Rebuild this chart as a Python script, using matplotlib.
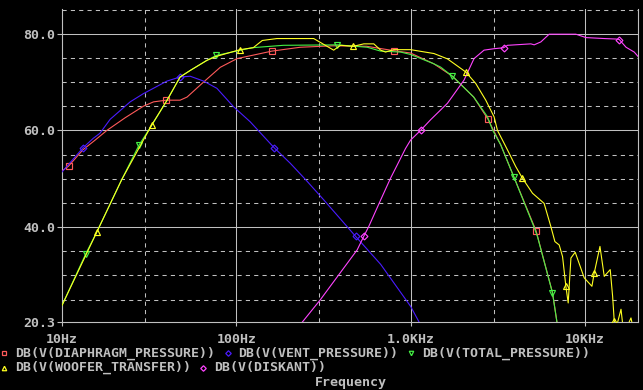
import matplotlib
matplotlib.use("Agg")
import matplotlib.pyplot as plt
from matplotlib.lines import Line2D

# ---------------- data (frequency in Hz, level in dB) ----------------
diaphragm_f = [10, 10.9, 13.2, 15.5, 18.1, 23.0, 29.3, 33.5, 39.6, 47.6, 52.2, 64.9, 80.9,
               101, 160, 233, 361, 559, 798, 1000, 1355, 1738, 2300, 2780, 3290, 3910,
               5250, 6520, 6970]
diaphragm_db = [51.6, 52.6, 56.0, 58.0, 60.0, 62.6, 65.0, 65.9, 66.25, 66.25, 66.9, 70.0, 73.05,
                74.85, 76.4, 77.2, 77.5, 77.4, 76.5, 76.0, 73.8, 71.2, 66.9, 62.3, 57.0, 50.4,
                39.2, 26.4, 19.5]

vent_f = [10, 13.2, 15.1, 16.5, 18.9, 24.6, 29.3, 40.0, 47.6, 54.4, 64.9, 77.4, 96.4, 120,
          165, 204, 250, 318, 483, 673, 1000, 1140]
vent_db = [51.4, 56.4, 58.35, 59.4, 62.3, 65.9, 67.6, 70.2, 71.05, 71.2, 70.2, 68.7, 64.9, 61.8,
           56.4, 53.2, 49.8, 45.6, 38.1, 32.3, 23.6, 19.8]

total_f = [10, 13.7, 15.8, 22.0, 27.7, 32.8, 40.0, 47.6, 54.4, 67.9, 76.7, 123, 186, 379, 564,
           673, 877, 1000, 1355, 1486, 1738, 2301, 2762, 2960, 3289, 3908, 5093, 5346, 6516,
           6966]
total_db = [23.8, 34.5, 38.9, 49.8, 57.0, 61.1, 66.2, 71.05, 72.4, 74.5, 75.5, 77.1, 77.6, 77.7,
            77.2, 76.4, 76.2, 75.7, 73.8, 73.1, 71.2, 66.9, 62.8, 60.0, 57.0, 50.4, 40.1, 38.0,
            26.4, 19.5]

woofer_f = [10, 15.8, 22.0, 29.3, 32.8, 40.0, 47.6, 54.4, 67.9, 76.7, 105, 125, 141, 171, 278,
            324, 362, 396, 470, 539, 615, 673, 718, 798, 1000, 1361, 1626, 2070, 2365, 2699,
            3013, 3150, 3365, 3673, 4012, 4383, 5004, 5834, 6378, 6727, 7119, 7443, 7777,
            8019, 8313, 8796, 9909, 10970, 11310, 12200, 12910, 13970, 14420, 14730, 15200,
            16110, 16520, 17500, 18380, 18800]
woofer_db = [23.8, 38.9, 49.8, 58.0, 61.2, 66.2, 71.05, 72.4, 74.5, 75.3, 76.7, 77.1, 78.6, 79.0,
             79.0, 77.6, 76.6, 77.6, 77.4, 77.9, 77.9, 76.6, 76.2, 76.7, 76.7, 75.9, 74.8,
             72.1, 69.7, 66.25, 62.8, 60.0, 58.0, 55.3, 52.5, 50.1, 47.0, 44.9, 40.1, 37.0,
             36.3, 33.9, 27.75, 24.3, 33.6, 34.8, 29.5, 27.75, 30.5, 36.0, 29.8, 31.2, 25.7,
             20.6, 19.5, 23.0, 19.5, 19.5, 21.2, 19.5]

diskant_f = [229, 304, 494, 539, 575, 673, 767, 935, 1000, 1141, 1302, 1626, 2025, 2311, 2638,
             3013, 3413, 3597, 4898, 5117, 5587, 6237, 8872, 10140, 12910, 15070, 15740,
             17220, 19190, 20510]
diskant_db = [19.5, 25.0, 35.3, 38.1, 40.1, 45.6, 50.1, 56.25, 58.0, 60.0, 62.2, 65.6, 70.4,
              74.85, 76.6, 76.9, 77.1, 77.6, 77.9, 77.7, 78.3, 79.9, 79.9, 79.2, 79.0, 78.9,
              78.8, 77.2, 76.2, 75.0]

x_ticks = [10, 100, 1000, 10000]
x_ticklabels = ["10Hz", "100Hz", "1.0KHz", "10KHz"]
y_ticks = [20.3, 40, 60, 80]
y_ticklabels = ["20.3", "40.0", "60.0", "80.0"]

legend_labels = ["DB(V(DIAPHRAGM_PRESSURE))", "DB(V(VENT_PRESSURE))",
                 "DB(V(TOTAL_PRESSURE))", "DB(V(WOOFER_TRANSFER))", "DB(V(DISKANT))"]

# marker indices (which samples carry a symbol)
diaphragm_marks = [1, 8, 14, 18, 23, 26]
vent_marks = [1, 8, 14, 18]
total_marks = [1, 4, 10, 13, 20, 25, 28]
woofer_marks = [1, 4, 10, 18, 27, 35, 42, 48, 53]
diskant_marks = [3, 9, 16, 26]

# ---------------- style ----------------
W, H = 643, 390
GRAY = "#c0c0c0"
C_RED = "#ff5a5a"
C_BLUE = "#4a1cff"
C_GREEN = "#44f044"
C_YEL = "#ffff20"
C_MAG = "#ff44ff"
FONT = dict(family="DejaVu Sans Mono", weight="bold", size=9.5, color=GRAY)

fig = plt.figure(figsize=(W / 100, H / 100), dpi=100, facecolor="black")
L, R, T, B = 62, 638, 9.3, 322.3
ax = fig.add_axes([L / W, 1 - B / H, (R - L) / W, (B - T) / H], facecolor="black")
ax.set_xscale("log")
ax.set_xlim(10, 10 ** (4 + (R - 585) / 174.0))
ax.set_ylim(20.3, 85.05)

GLW = 0.75
# grid
for f in [100, 1000, 10000]:
    ax.axvline(f, color=GRAY, lw=GLW, zorder=1)
for f in [30, 300, 3000]:
    ax.axvline(f, color=GRAY, lw=GLW, ls=(0, (4, 4)), zorder=1)
for v in [40, 60, 80]:
    ax.axhline(v, color=GRAY, lw=GLW, zorder=1)
for v in [25, 30, 35, 45, 50, 55, 65, 70, 75, 85]:
    ax.axhline(v, color=GRAY, lw=GLW, ls=(0, (4, 4)), zorder=1)

for s in ["left", "bottom", "right"]:
    ax.spines[s].set_color(GRAY)
    ax.spines[s].set_linewidth(0.8)
ax.spines["top"].set_visible(False)

ax.set_xticks(x_ticks)
ax.set_xticklabels(x_ticklabels)
ax.set_xticks([], minor=True)
ax.set_yticks(y_ticks)
ax.set_yticklabels(y_ticklabels)
ax.tick_params(axis="x", which="major", length=3, width=0.8, color=GRAY, pad=5)
ax.tick_params(axis="y", which="major", length=3.6, width=0.8, color=GRAY, pad=1.5)
for lab in ax.get_xticklabels() + ax.get_yticklabels():
    lab.set_fontfamily(FONT["family"])
    lab.set_fontweight(FONT["weight"])
    lab.set_fontsize(FONT["size"])
    lab.set_color(GRAY)

mk = dict(markersize=4, markerfacecolor="none", markeredgewidth=0.85)
lw = 0.8
ax.plot(diaphragm_f, diaphragm_db, color=C_RED, lw=lw, marker="s", markevery=diaphragm_marks,
        markeredgecolor=C_RED, zorder=3, **mk)
ax.plot(vent_f, vent_db, color=C_BLUE, lw=lw, marker="D", markevery=vent_marks,
        markeredgecolor=C_BLUE, zorder=3, **{**mk, "markersize": 3.5})
ax.plot(total_f, total_db, color=C_GREEN, lw=lw, marker="v", markevery=total_marks,
        markeredgecolor=C_GREEN, zorder=4, **mk)
ax.plot(woofer_f, woofer_db, color=C_YEL, lw=lw, marker="^", markevery=woofer_marks,
        markeredgecolor=C_YEL, zorder=5, **mk)
ax.plot(diskant_f, diskant_db, color=C_MAG, lw=lw, marker="D", markevery=diskant_marks,
        markeredgecolor=C_MAG, zorder=4, **{**mk, "markersize": 3.5})

# legend (PSpice style, below the axis)
def key(xp, yp, marker, color, size=3.2):
    fig.add_artist(Line2D([xp / W], [1 - yp / H], marker=marker, markersize=size,
                          markerfacecolor="none", markeredgecolor=color,
                          markeredgewidth=0.9, ls="none", transform=fig.transFigure))

def ltext(xp, yp, s):
    fig.text(xp / W, 1 - yp / H, s, ha="left", va="center", **FONT)

key(3.5, 353.3, "s", C_RED)
ltext(15, 353.3, legend_labels[0])
key(227.7, 353.3, "D", C_BLUE, 2.8)
ltext(238.3, 353.3, legend_labels[1])
key(410.7, 353.3, "v", C_GREEN)
ltext(422.3, 353.3, legend_labels[2])
key(3.5, 367.7, "^", C_YEL)
ltext(15, 367.7, legend_labels[3])
key(203.3, 367.7, "D", C_MAG, 2.8)
ltext(214.3, 367.7, legend_labels[4])

fig.text(350.7 / W, 1 - 382.7 / H, "Frequency", ha="center", va="center", **FONT)

fig.savefig("out.png", dpi=100, facecolor="black")
